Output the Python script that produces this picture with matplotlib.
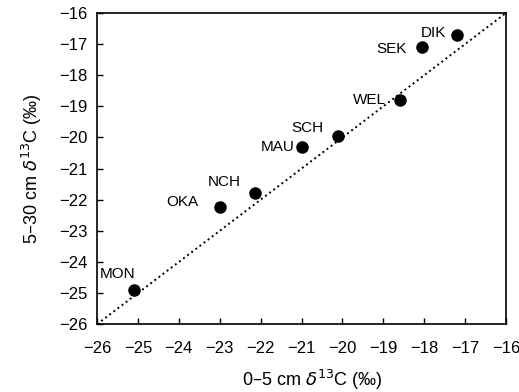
import matplotlib.pyplot as plt

plt.rcParams["font.family"] = ["Liberation Sans", "DejaVu Sans"]
plt.rcParams["mathtext.fontset"] = "dejavusans"

sites = ["MON", "OKA", "NCH", "MAU", "SCH", "WEL", "SEK", "DIK"]
d13c_0_5 = [-25.1, -23.0, -22.15, -21.0, -20.1, -18.6, -18.05, -17.2]
d13c_5_30 = [-24.9, -22.25, -21.8, -20.3, -19.95, -18.8, -17.1, -16.7]
# label offsets in points relative to each dot
label_offsets = {
    "MON": (-12, 11.5), "OKA": (-27, 4), "NCH": (-22, 8), "MAU": (-17, 0),
    "SCH": (-22, 6), "WEL": (-22, 0), "SEK": (-22, -1.5), "DIK": (-17, 1.5),
}
ticks = list(range(-26, -15))


def main() -> None:
    fig = plt.figure(figsize=(5.19, 3.92), dpi=100)
    ax = fig.add_axes([0.187, 0.173, 0.788, 0.794])

    ax.plot([-26, -16], [-26, -16], linestyle=":", color="black", linewidth=1.4)
    ax.plot(d13c_0_5, d13c_5_30, "o", color="black", markersize=8, zorder=3)

    for name, x, y in zip(sites, d13c_0_5, d13c_5_30):
        ax.annotate(name, (x, y), xytext=label_offsets[name], textcoords="offset points",
                    ha="center", va="center", fontsize=11)

    ax.set_xlim(-26, -16)
    ax.set_ylim(-26, -16)
    ax.set_xticks(ticks)
    ax.set_yticks(ticks)
    ax.tick_params(direction="in", length=4, width=1, labelsize=12)
    ax.tick_params(axis="x", pad=12)
    ax.tick_params(axis="y", pad=7)
    for s in ax.spines.values():
        s.set_linewidth(1.2)

    ax.set_xlabel("0\u20135 cm $\\delta^{13}$C (\u2030)", fontsize=13, labelpad=9)
    ax.set_ylabel("5\u201330 cm $\\delta^{13}$C (\u2030)", fontsize=13, labelpad=11)
    ax.xaxis.label.set_x(0.526)

    fig.savefig("out.png", dpi=100)
    plt.close(fig)


if __name__ == "__main__":
    main()
